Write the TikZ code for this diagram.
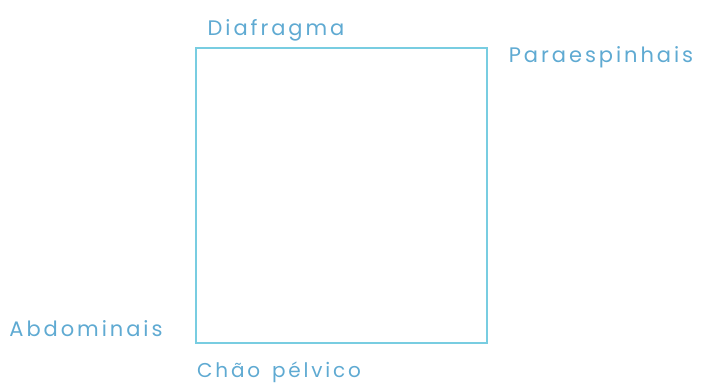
\documentclass[tikz,border=0pt]{standalone}
\usepackage{fontspec}
\newfontfamily\hand[LetterSpace=14]{Poppins}
\definecolor{lineC}{RGB}{120,205,225}
\definecolor{textC}{RGB}{95,170,210}
\begin{document}
\begin{tikzpicture}[x=1pt,y=-1pt,
  lbl/.style={text=textC,font=\hand\fontsize{21}{24}\selectfont,inner sep=0pt,anchor=center},
  box/.style={draw=lineC,line width=2.4pt}]
\useasboundingbox (0,0) rectangle (701,389);
\coordinate (tl) at (196,48);
\coordinate (br) at (487,343);
\draw[box] (tl) rectangle (br);
\node[lbl] (dia) at (276,30) {Diafragma};
\node[lbl] (par) at (601,57) {Paraespinhais};
\node[lbl] (abd) at (86,329) {Abdominais};
\node[lbl,font=\hand\fontsize{20}{24}\selectfont] (cha) at (279,372) {Chão\hspace{12pt}pélvico};
\end{tikzpicture}
\end{document}
